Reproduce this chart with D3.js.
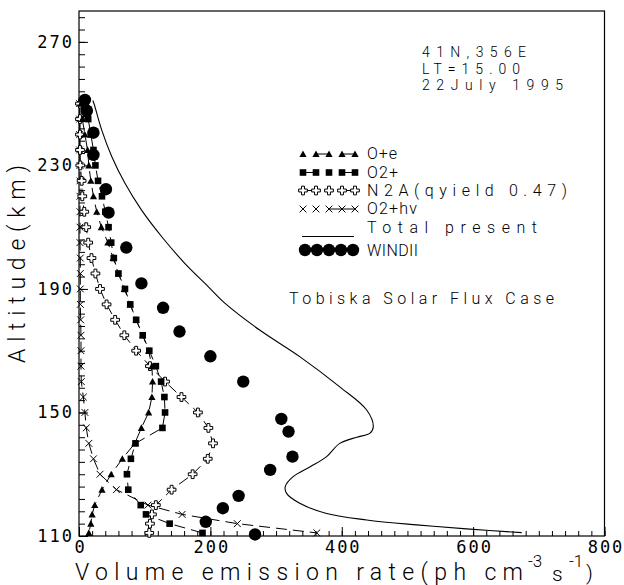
<!DOCTYPE html>
<html>
<head>
<meta charset="utf-8">
<script src="https://cdn.jsdelivr.net/npm/d3@7"></script>
<style>
  html, body { margin: 0; padding: 0; background: #fff; }
  svg { display: block; }
  text { font-family: Roboto, "DejaVu Sans", sans-serif; font-weight: 300; fill: #000; }
  .num { font-family: "DejaVu Sans Mono", monospace; font-weight: normal; }
</style>
</head>
<body>
<svg id="chart" width="624" height="585"></svg>
<script>
// Model altitude grid (km)
const modelAlt = [250, 245, 240, 235, 230, 225, 220, 215, 210, 205, 200, 195, 190, 185, 180,
                  175, 170, 165, 160, 155, 150, 145, 140, 135, 130, 125, 120, 117, 114, 111];

// Volume emission rates (ph cm^-3 s^-1) for each source, on modelAlt
const oPlusE = [3, 5, 9, 13, 15, 18, 22, 27, 34, 44, 52, 60, 69, 78, 87,
                97, 106, 111, 112, 111, 106, 95, 85, 66, 49, 35, 24, 20, 18, 15];
const o2Plus = [9, 14, 18, 22, 25, 29, 35, 40, 45, 49, 53, 60, 70, 78, 87,
                97, 107, 117, 125, 130, 131, 127, 86, 79, 73, 75, 94, 102, 138, 188];
const n2a = [1.5, 1.5, 1.5, 1.5, 2, 4, 5, 8, 11, 14, 19, 25, 32, 42, 55,
             69, 87, 108, 131, 156, 181, 197, 204, 196, 173, 141, 117, 111, 108, 107];
const o2PlusHv = [1, 1, 1, 1, 1.5, 1.5, 1.5, 1.5, 1.5, 1.5, 2, 2, 2, 2, 2.5,
                  3, 3, 3, 3.5, 6.6, 9, 11, 15, 22, 32, 57, 105, 157, 241, 362];

// Total emission profile
const totalAlt = [251, 249.9, 241.5, 232.8, 224.2, 215.6, 206.9, 198.3, 190.7, 185.4, 176.7,
                  168.1, 158.3, 150.8, 145.4, 143.3, 142, 140, 135.7, 132.4, 129.2, 126,
                  123.8, 120.6, 117.3, 115.2, 113.6, 112.3, 111.1];
const totalVer = [21, 23, 34.5, 50, 70, 95, 126, 161, 197, 222, 275,
                  336, 397, 438, 448, 443, 423, 397, 377, 352, 326, 314,
                  316, 336, 377, 438, 514, 590, 674];

// WINDII observations
const windiiAlt = [251.2, 247.7, 240.6, 233.4, 222.3, 214.7, 203.4, 191.8, 183.9, 176.2,
                   168.2, 160, 147.9, 143.8, 135.7, 131.4, 123, 119, 114.6, 110.5];
const windiiVer = [9, 12, 22, 22, 41, 45, 72, 95, 128, 153,
                   200, 250, 308, 319, 325, 291, 243, 219, 193, 268];

// Axis ticks
const xMajor = [0, 200, 400, 600, 800];
const yMajor = [110, 150, 190, 230, 270];

// Annotation text
const infoLines = ["41N,356E", "LT=15.00", "22July 1995"];
const legendLabels = ["O+e", "O2+", "N2A(qyield 0.47)", "O2+hv", "Total present", "WINDII"];
const caseLabel = "Tobiska Solar Flux Case";

const svg = d3.select("#chart");
const plotLeft = 79, plotRight = 604.5, plotTop = 11, plotBottom = 536;
const x = d3.scaleLinear().domain([0, 800]).range([plotLeft, plotRight]);
const y = d3.scaleLinear().domain([110, 280]).range([plotBottom, plotTop]);

// Frame
svg.append("rect").attr("x", plotLeft).attr("y", plotTop)
  .attr("width", plotRight - plotLeft).attr("height", plotBottom - plotTop)
  .attr("fill", "none").attr("stroke", "#000").attr("stroke-width", 1.2);

// Axes with inward ticks
const xMinor = d3.range(0, 801, 20);
const yMinor = d3.range(110, 280, 4);
svg.append("g").attr("transform", `translate(0,${plotBottom})`)
  .call(d3.axisBottom(x).tickValues(xMinor).tickSize(-5).tickFormat(""))
  .call(g => g.select(".domain").remove());
svg.append("g").attr("transform", `translate(0,${plotBottom})`)
  .call(d3.axisBottom(x).tickValues(xMajor).tickSize(-9).tickPadding(5).tickFormat(d3.format("d")))
  .call(g => g.select(".domain").remove())
  .call(g => g.selectAll("text").attr("class", "num").attr("font-size", 17).attr("font-family", null)
      .attr("dx", "1px").style("letter-spacing", "2px"));
svg.append("g").attr("transform", `translate(${plotLeft},0)`)
  .call(d3.axisLeft(y).tickValues(yMinor).tickSize(-6).tickFormat(""))
  .call(g => g.select(".domain").remove());
svg.append("g").attr("transform", `translate(${plotLeft},0)`)
  .call(d3.axisLeft(y).tickValues(yMajor).tickSize(-9).tickPadding(5).tickFormat(d3.format("d")))
  .call(g => g.select(".domain").remove())
  .call(g => g.selectAll("text").attr("class", "num").attr("font-size", 17).attr("font-family", null)
      .style("letter-spacing", "2px"));
svg.selectAll(".tick line").attr("stroke", "#000");

// Axis titles
svg.append("text").attr("transform", "translate(25,264) rotate(-90)")
  .attr("text-anchor", "middle").attr("font-size", 23)
  .attr("textLength", 198).attr("lengthAdjust", "spacing").text("Altitude(km)");
svg.append("text").attr("x", 75).attr("y", 580).attr("font-size", 23)
  .attr("textLength", 448).attr("lengthAdjust", "spacing").text("Volume emission rate(ph cm");
svg.append("text").attr("x", 528).attr("y", 567).attr("font-size", 17).text("-3");
svg.append("text").attr("x", 552).attr("y", 581).attr("font-size", 21).text("s");
svg.append("text").attr("x", 569).attr("y", 567).attr("font-size", 17).text("-1");
svg.append("text").attr("x", 586).attr("y", 580).attr("font-size", 21).text(")");

// Marker shapes
const markers = {
  tri: s => s.append("path").attr("d", "M-3.6,3 L3.6,3 L0,-3.6 Z").attr("fill", "#000"),
  sq: s => s.append("rect").attr("x", -3.3).attr("y", -3.3).attr("width", 6.6).attr("height", 6.6).attr("fill", "#000"),
  plus: s => s.append("path").attr("d", d3.symbol(d3.symbolCross, 42)()).attr("fill", "#fff")
      .attr("stroke", "#000").attr("stroke-width", 1),
  cross: s => s.append("path").attr("d", "M-3.4,-3.4 L3.4,3.4 M-3.4,3.4 L3.4,-3.4")
      .attr("fill", "none").attr("stroke", "#000").attr("stroke-width", 1),
  dot: s => s.append("circle").attr("r", 6.2).attr("fill", "#000")
};

const modelSeries = [
  { values: o2PlusHv, marker: "cross" },
  { values: n2a, marker: "plus" },
  { values: oPlusE, marker: "tri" },
  { values: o2Plus, marker: "sq" }
];

// Total profile
const totalPts = totalVer.map((v, i) => [v, totalAlt[i]]);
svg.append("path")
  .attr("d", d3.line().x(d => x(d[0])).y(d => y(d[1])).curve(d3.curveCatmullRom.alpha(0.5))(totalPts))
  .attr("fill", "none").attr("stroke", "#000").attr("stroke-width", 1.1);

// Model profiles: broken connecting line plus markers
modelSeries.forEach(s => {
  const pts = s.values.map((v, i) => [v, modelAlt[i]]);
  svg.append("path").attr("d", d3.line().x(d => x(d[0])).y(d => y(d[1]))(pts))
    .attr("fill", "none").attr("stroke", "#000").attr("stroke-width", 1)
    .attr("stroke-dasharray", "11,6");
});
modelSeries.forEach(s => {
  s.values.forEach((v, i) => {
    const g = svg.append("g").attr("transform", `translate(${x(v)},${y(modelAlt[i])})`);
    markers[s.marker](g);
  });
});

// WINDII
windiiVer.forEach((v, i) => {
  const g = svg.append("g").attr("transform", `translate(${x(v)},${y(windiiAlt[i])})`);
  markers.dot(g);
});

// Info block
infoLines.forEach((t, i) => {
  svg.append("text").attr("x", 422).attr("y", 57 + i * 16.5).attr("font-size", 14)
    .attr("textLength", [104, 98, 141][i]).attr("lengthAdjust", "spacing").text(t);
});

// Legend
const legendRows = [
  { marker: "tri", cy: 154, segs: [[1, 2], [3, 4]], base: 159, len: 30 },
  { marker: "sq", cy: 172.5, segs: [[0, 1], [3, 4]], base: 177.5, len: 31 },
  { marker: "plus", cy: 190.5, segs: [[0, 1], [3, 4]], base: 195.5, len: 200 },
  { marker: "cross", cy: 209, segs: [[2, 3], [3, 4]], base: 214, len: 50 },
  { marker: "line", cy: 236.5, segs: [], base: 232.5, len: 170 },
  { marker: "dot", cy: 250, segs: [], base: 256, len: 51 }
];
const legendX = [303, 316, 329, 342, 355];
legendRows.forEach((r, k) => {
  if (r.marker === "line") {
    svg.append("line").attr("x1", 302).attr("x2", 354).attr("y1", r.cy).attr("y2", r.cy)
      .attr("stroke", "#000").attr("stroke-width", 1);
  } else {
    r.segs.forEach(([a, b]) => {
      svg.append("line").attr("x1", legendX[a]).attr("x2", legendX[b])
        .attr("y1", r.cy).attr("y2", r.cy).attr("stroke", "#000").attr("stroke-width", 1);
    });
    const xs = r.marker === "dot" ? [305, 317, 329, 341, 353] : legendX;
    xs.forEach(px => markers[r.marker](svg.append("g").attr("transform", `translate(${px},${r.cy})`)));
  }
  svg.append("text").attr("x", 367).attr("y", r.base).attr("font-size", 16)
    .attr("textLength", r.len).attr("lengthAdjust", "spacing").text(legendLabels[k]);
});

svg.append("text").attr("x", 289).attr("y", 304).attr("font-size", 16)
  .attr("textLength", 265).attr("lengthAdjust", "spacing").text(caseLabel);
</script>
</body>
</html>
